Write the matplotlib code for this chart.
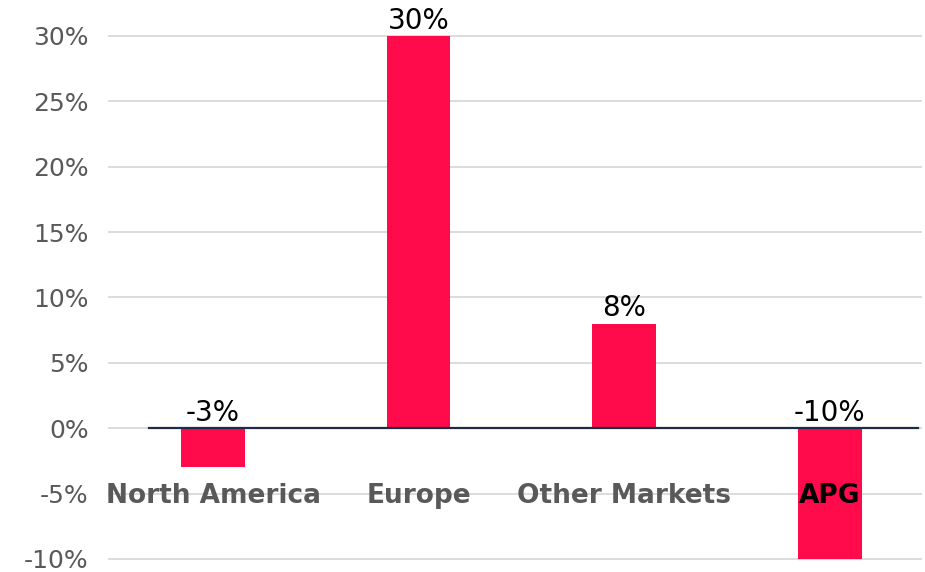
import matplotlib.pyplot as plt

regions = ['North America', 'Europe', 'Other Markets', 'APG']
growth = [-3, 30, 8, -10]
label_colors = ['#595959', '#595959', '#595959', 'black']
yticks = [-10, -5, 0, 5, 10, 15, 20, 25, 30]

plt.rcParams['font.family'] = ['DejaVu Sans']

fig = plt.figure(figsize=(9.25, 5.72), dpi=100)
ax = fig.add_axes([0.117, 0.0, 0.88, 0.96])

x = range(len(regions))
ax.bar(x, growth, width=0.31, color='#FF0A4B', zorder=2)

# value labels sit above the bar, or above the zero line for negatives
for i, v in enumerate(growth):
    ax.text(i, max(v, 0) + 0.1, f'{v}%', ha='center', va='bottom',
            fontsize=20, color='black', zorder=4)

# region names drawn inside the plot area
for i, name in enumerate(regions):
    ax.text(i, -5.2, name, ha='center', va='center', fontsize=19,
            fontweight='bold', color=label_colors[i], zorder=4)

ax.axhline(0, xmin=0.05, xmax=0.995, color='#1F2A44', lw=1.6, zorder=3)

ax.set_xlim(-0.51, 3.45)
ax.set_ylim(-11, 31)
ax.set_yticks(yticks)
ax.set_yticklabels([f'{t}%' for t in yticks])
ax.tick_params(axis='y', length=0, pad=14, labelsize=18, labelcolor='#595959')
ax.set_xticks([])
ax.grid(axis='y', color='#D9D9D9', lw=1.3, zorder=0)
for s in ax.spines.values():
    s.set_visible(False)

fig.savefig('out.png', dpi=100)
